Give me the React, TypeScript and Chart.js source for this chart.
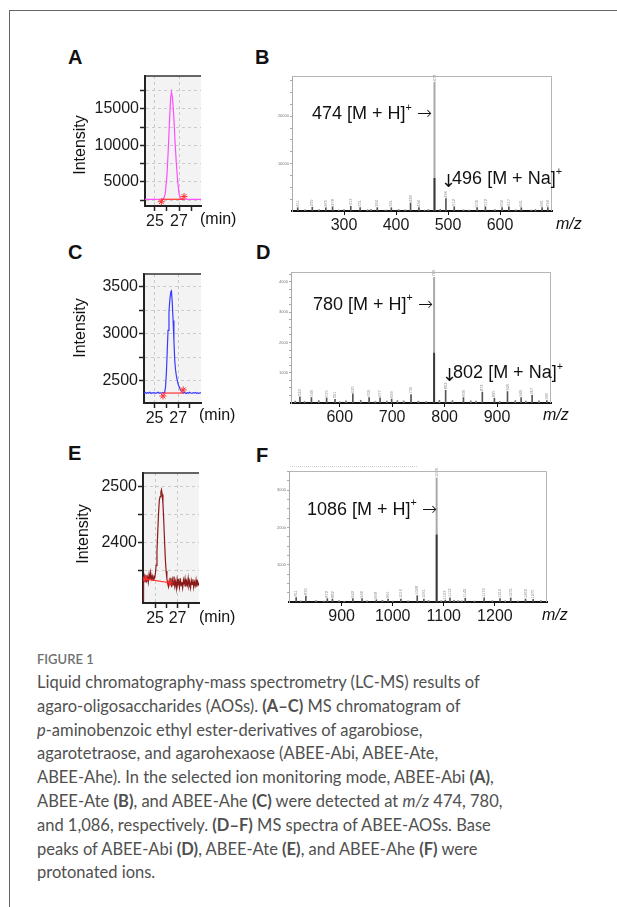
import React, { useEffect, useRef } from "react";
import { Chart, registerables } from "chart.js";
Chart.register(...registerables);

const SANS = "'Liberation Sans', Arial, Helvetica, sans-serif";

// ---------- Panel A: ABEE-Abi chromatogram ----------
const A_TIME = [24.17, 25.0, 25.5, 25.7, 25.85, 26.0, 26.1, 26.2, 26.3, 26.37, 26.45, 26.56, 26.67, 26.78, 26.9, 27.0, 27.1, 27.2, 27.4, 28.0, 28.83];
const A_INT = [2630, 2630, 2635, 2680, 3300, 6000, 9200, 13000, 16400, 17300, 16600, 14200, 10500, 7500, 4900, 3450, 2850, 2680, 2635, 2630, 2630];
const A_BASE_X = [25.53, 27.42];
const A_BASE_Y = [2630, 2630];
const A_MARK_Y = [2300, 3000];
const A_X_TICKS = [25, 26, 27, 28];
const A_X_LABELS = [25, 27];
const A_Y_TICKS = [2500, 5000, 7500, 10000, 12500, 15000, 17500];
const A_Y_LABELS = [5000, 10000, 15000];

// ---------- Panel C: ABEE-Ate chromatogram ----------
const C_TIME = [24.1, 24.2, 24.3, 24.4, 24.5, 24.6, 24.7, 24.8, 24.9, 25.0, 25.1, 25.2, 25.3, 25.4, 25.5, 25.6, 25.7, 25.78, 25.85, 25.93, 26.0, 26.07, 26.14, 26.22, 26.3, 26.38, 26.43, 26.5, 26.57, 26.64, 26.71, 26.78, 26.86, 27.0, 27.14, 27.25, 27.37, 27.47, 27.57, 27.67, 27.77, 27.87, 27.97, 28.07, 28.17, 28.27, 28.37, 28.47, 28.57, 28.67, 28.77, 28.87, 28.94];
const C_INT = [2368, 2372, 2363, 2370, 2366, 2374, 2362, 2369, 2365, 2371, 2362, 2368, 2374, 2364, 2369, 2365, 2372, 2366, 2370, 2430, 2580, 2800, 3035, 3230, 3370, 3445, 3454, 3330, 3140, 2930, 2715, 2610, 2540, 2460, 2415, 2390, 2372, 2366, 2373, 2361, 2369, 2364, 2375, 2366, 2362, 2371, 2365, 2373, 2363, 2368, 2362, 2370, 2366];
const C_BASE_X = [25.71, 27.43];
const C_BASE_Y = [2366, 2366];
const C_MARK_Y = [2335, 2400];
const C_X_TICKS = [25, 26, 27, 28];
const C_X_LABELS = [25, 27];
const C_Y_TICKS = [2500, 2750, 3000, 3250, 3500];
const C_Y_LABELS = [2500, 3000, 3500];

// ---------- Panel E: ABEE-Ahe chromatogram ----------
const E_TIME = [23.93, 23.98, 24.05, 24.12, 24.19, 24.26, 24.33, 24.4, 24.47, 24.54, 24.61, 24.68, 24.75, 24.82, 24.89, 24.96, 25.03, 25.1, 25.17, 25.24, 25.31, 25.38, 25.45, 25.52, 25.57, 25.63, 25.7, 25.77, 25.84, 25.91, 25.98, 26.05, 26.12, 26.19, 26.26, 26.33, 26.4, 26.47, 26.54, 26.61, 26.68, 26.75, 26.82, 26.89, 26.96, 27.03, 27.1, 27.17, 27.24, 27.31, 27.38, 27.45, 27.52, 27.59, 27.66, 27.73, 27.8, 27.87, 27.94, 28.01, 28.08, 28.15, 28.22, 28.29, 28.36, 28.43, 28.5, 28.57, 28.64, 28.71, 28.78, 28.85, 28.9];
const E_INT = [2297, 2334, 2341, 2331, 2343, 2333, 2339, 2330, 2344, 2334, 2347, 2336, 2341, 2333, 2340, 2338, 2345, 2360, 2385, 2420, 2452, 2476, 2482, 2490, 2494, 2486, 2470, 2440, 2405, 2372, 2350, 2336, 2328, 2322, 2333, 2326, 2338, 2321, 2334, 2325, 2340, 2323, 2331, 2319, 2335, 2326, 2332, 2321, 2337, 2324, 2330, 2320, 2334, 2327, 2336, 2322, 2331, 2325, 2337, 2323, 2329, 2320, 2333, 2326, 2335, 2321, 2330, 2324, 2334, 2322, 2331, 2326, 2329];
const E_BASE_X = [24.1, 26.3];
const E_BASE_Y = [2336, 2329];
const E_MARK_Y = [2336, 2329];
const E_X_TICKS = [25, 26, 27, 28];
const E_X_LABELS = [25, 27];
const E_Y_TICKS = [2350, 2400, 2450, 2500];
const E_Y_LABELS = [2400, 2500];

// ---------- Panel B: MS spectrum ABEE-Abi ----------
const B_BASE_MZ = 474;
const B_BASE_INT = 27200;
const B_BASE_CORE = 6900;
const B_PEAK_MZ = [211, 239, 265, 278, 313, 331, 364, 391, 428, 444, 496, 512, 556, 572, 604, 617, 641, 681, 692];
const B_PEAK_INT = [700, 800, 700, 900, 1000, 700, 700, 700, 1700, 700, 2600, 900, 700, 900, 700, 900, 700, 700, 700];
const B_NOISE_MZ = [225, 252, 290, 300, 345, 352, 380, 405, 418, 455, 462, 485, 530, 540, 590, 630, 660, 668];
const B_NOISE_INT = [250, 300, 200, 300, 250, 350, 200, 300, 250, 200, 300, 350, 250, 200, 300, 250, 200, 300];
const B_X_TICKS = [300, 400, 500, 600];
const B_Y_TICKS = [2500, 5000, 7500, 10000, 12500, 15000, 17500, 20000, 22500, 25000, 27500];
const B_Y_LABELS = [10000, 20000];

// ---------- Panel D: MS spectrum ABEE-Ate ----------
const D_BASE_MZ = 780;
const D_BASE_INT = 4150;
const D_BASE_CORE = 1650;
const D_PEAK_MZ = [524, 546, 575, 591, 625, 656, 677, 699, 736, 802, 836, 872, 895, 920, 946, 967, 995];
const D_PEAK_INT = [200, 180, 170, 120, 300, 180, 170, 130, 280, 420, 180, 360, 160, 380, 180, 250, 80];
const D_NOISE_MZ = [515, 533, 560, 600, 612, 640, 668, 690, 710, 722, 750, 765, 790, 815, 850, 860, 905, 935, 955, 980];
const D_NOISE_INT = [60, 50, 80, 40, 70, 90, 50, 60, 80, 70, 60, 50, 90, 80, 70, 60, 50, 80, 60, 70];
const D_X_TICKS = [600, 700, 800, 900];
const D_Y_TICKS = [250, 500, 750, 1000, 1250, 1500, 1750, 2000, 2250, 2500, 2750, 3000, 3250, 3500, 3750, 4000, 4250];
const D_Y_LABELS = [1000, 2000, 3000, 4000];

// ---------- Panel F: MS spectrum ABEE-Ahe ----------
const F_BASE_MZ = 1086;
const F_BASE_INT = 3330;
const F_BASE_CORE = 1800;
const F_PEAK_MZ = [811, 830, 872, 882, 922, 940, 968, 991, 1016, 1048, 1061, 1103, 1112, 1142, 1179, 1210, 1231, 1260, 1275];
const F_PEAK_INT = [120, 160, 90, 80, 90, 90, 60, 80, 80, 170, 80, 50, 110, 100, 110, 90, 110, 80, 70];
const F_NOISE_MZ = [820, 850, 865, 895, 905, 950, 980, 1000, 1030, 1070, 1095, 1120, 1128, 1135, 1160, 1195, 1220, 1245, 1290];
const F_NOISE_INT = [30, 40, 25, 35, 20, 30, 45, 25, 30, 40, 35, 45, 40, 30, 25, 35, 30, 25, 40];
const F_X_TICKS = [900, 1000, 1100, 1200];
const F_Y_TICKS = [250, 500, 750, 1000, 1250, 1500, 1750, 2000, 2250, 2500, 2750, 3000, 3250, 3500];
const F_Y_LABELS = [1000, 2000, 3000];

type Area = { l: number; t: number; r: number; b: number };

const chromaPlugin = {
  id: "chromaFrame",
  beforeDraw(chart: any) {
    const { ctx, chartArea: a } = chart;
    ctx.save();
    ctx.fillStyle = "#f3f3f3";
    ctx.fillRect(a.left, a.top, a.right - a.left, a.bottom - a.top);
    ctx.restore();
  },
  afterDraw(chart: any) {
    const { ctx, chartArea: a } = chart;
    ctx.save();
    ctx.strokeStyle = "#333";
    ctx.lineWidth = 1.5;
    ctx.beginPath();
    ctx.moveTo(a.left, a.top);
    ctx.lineTo(a.right, a.top);
    ctx.stroke();
    ctx.restore();
  },
};

function Chromatogram(props: {
  area: Area; xMin: number; xMax: number; yMin: number; yMax: number;
  time: number[]; inten: number[]; color: string;
  baseX: number[]; baseY: number[]; markY: number[];
  xTicks: number[]; xLabels: number[]; yTicks: number[]; yLabels: number[];
}) {
  const ref = useRef<HTMLCanvasElement>(null);
  const { area } = props;
  const yW = 70, padT = 14, padR = 14, xH = 30;
  const left = area.l - yW, top = area.t - padT;
  const w = area.r - area.l + yW + padR, h = area.b - area.t + padT + xH;
  useEffect(() => {
    const p = props;
    const chart = new Chart(ref.current!, {
      type: "line",
      data: {
        datasets: [
          {
            data: p.baseX.map((x, i) => ({ x, y: p.baseY[i] })),
            borderColor: "#ff3030", borderWidth: 1.2, pointRadius: 0, order: 0,
          },
          {
            data: p.baseX.map((x, i) => ({ x, y: p.markY[i] })),
            showLine: false, pointStyle: "star", pointRadius: 3.5,
            pointBorderColor: "#ff3030", pointBorderWidth: 1, order: 0,
          },
          {
            data: p.time.map((x, i) => ({ x, y: p.inten[i] })),
            borderColor: p.color, borderWidth: 1.2, pointRadius: 0, tension: 0, order: 1,
          },
        ],
      } as any,
      options: {
        responsive: false,
        animation: false,
        devicePixelRatio: 1,
        layout: { padding: { top: padT, right: padR, left: 0, bottom: 0 } },
        plugins: { legend: { display: false }, tooltip: { enabled: false } },
        scales: {
          x: {
            type: "linear", min: p.xMin, max: p.xMax,
            afterFit: (s: any) => { s.height = xH; },
            afterBuildTicks: (s: any) => { s.ticks = p.xTicks.map((v) => ({ value: v })); },
            ticks: {
              autoSkip: false, maxRotation: 0, padding: 1, color: "#1a1a1a",
              font: { family: SANS, size: 16 },
              callback: (v: any) => (p.xLabels.includes(Number(v)) ? String(v) : ""),
            },
            grid: {
              color: (c: any) => (c.tick && p.xLabels.includes(c.tick.value) ? "#c9c9c9" : "rgba(0,0,0,0)"),
              tickColor: "#222", tickLength: 5, tickWidth: 1.5, lineWidth: 1,
            },
            border: { display: true, color: "#222", width: 2, dash: [3, 3] },
          },
          y: {
            type: "linear", min: p.yMin, max: p.yMax,
            afterFit: (s: any) => { s.width = yW; },
            afterBuildTicks: (s: any) => { s.ticks = p.yTicks.map((v) => ({ value: v })); },
            ticks: {
              autoSkip: false, padding: 1, color: "#1a1a1a",
              font: { family: SANS, size: 16 },
              callback: (v: any) => (p.yLabels.includes(Number(v)) ? String(v) : ""),
            },
            grid: { color: "#cccccc", tickColor: "#222", tickLength: 5, tickWidth: 1.5, lineWidth: 1 },
            border: { display: true, color: "#222", width: 2, dash: [3, 3] },
          },
        },
      } as any,
      plugins: [chromaPlugin],
    });
    return () => chart.destroy();
  }, []);
  return (
    <canvas ref={ref} width={w} height={h}
      style={{ position: "absolute", left, top, width: w, height: h }} />
  );
}

function Spectrum(props: {
  area: Area; xMin: number; xMax: number; yMax: number;
  baseMz: number; baseInt: number; baseCore: number;
  peakMz: number[]; peakInt: number[]; noiseMz: number[]; noiseInt: number[];
  xTicks: number[]; yTicks: number[]; yLabels: number[];
}) {
  const ref = useRef<HTMLCanvasElement>(null);
  const { area } = props;
  const yW = 20, padT = 6, padR = 6, xH = 30;
  const left = area.l - yW, top = area.t - padT;
  const w = area.r - area.l + yW + padR, h = area.b - area.t + padT + xH;
  useEffect(() => {
    const p = props;
    const specPlugin = {
      id: "specFrame",
      afterDatasetsDraw(chart: any) {
        const { ctx, scales } = chart;
        const xs = scales.x, ys = scales.y;
        ctx.save();
        ctx.fillStyle = "#8a8a8a";
        ctx.font = `4px ${SANS}`;
        ctx.textAlign = "left";
        ctx.textBaseline = "middle";
        const all = [p.baseMz, ...p.peakMz];
        const ints = [p.baseInt, ...p.peakInt];
        all.forEach((mz, i) => {
          const px = xs.getPixelForValue(mz);
          const py = ys.getPixelForValue(ints[i]) - 1;
          ctx.save();
          ctx.translate(px, py);
          ctx.rotate(-Math.PI / 2);
          ctx.fillText(String(mz), 0, 0);
          ctx.restore();
        });
        ctx.restore();
      },
      afterDraw(chart: any) {
        const { ctx, chartArea: a } = chart;
        ctx.save();
        ctx.strokeStyle = "#b5b5b5";
        ctx.lineWidth = 1;
        ctx.beginPath();
        ctx.moveTo(a.left, a.top + 0.5);
        ctx.lineTo(a.right - 0.5, a.top + 0.5);
        ctx.lineTo(a.right - 0.5, a.bottom);
        ctx.stroke();
        ctx.restore();
      },
    };
    const chart = new Chart(ref.current!, {
      type: "bar",
      data: {
        datasets: [
          {
            data: [{ x: p.baseMz, y: p.baseCore }],
            backgroundColor: "#3a3a3a", barThickness: 1.3, grouped: false, order: 0,
          },
          {
            data: p.peakMz.map((x, i) => ({ x, y: p.peakInt[i] })),
            backgroundColor: "#555", barThickness: 1, grouped: false, order: 1,
          },
          {
            data: p.noiseMz.map((x, i) => ({ x, y: p.noiseInt[i] })),
            backgroundColor: "#777", barThickness: 1, grouped: false, order: 1,
          },
          {
            data: [{ x: p.baseMz, y: p.baseInt }],
            backgroundColor: "#a8a8a8", barThickness: 1.3, grouped: false, order: 2,
          },
        ],
      } as any,
      options: {
        responsive: false,
        animation: false,
        devicePixelRatio: 1,
        layout: { padding: { top: padT, right: padR, left: 0, bottom: 0 } },
        plugins: { legend: { display: false }, tooltip: { enabled: false } },
        scales: {
          x: {
            type: "linear", min: p.xMin, max: p.xMax, offset: false,
            afterFit: (s: any) => { s.height = xH; },
            afterBuildTicks: (s: any) => { s.ticks = p.xTicks.map((v) => ({ value: v })); },
            ticks: {
              autoSkip: false, maxRotation: 0, padding: 1, color: "#1a1a1a",
              font: { family: SANS, size: 16 },
              callback: (v: any) => String(v),
            },
            grid: { offset: false, drawOnChartArea: false, tickColor: "#111", tickLength: 4, tickWidth: 1 },
            border: { display: true, color: "#111", width: 2 },
          },
          y: {
            type: "linear", min: 0, max: p.yMax,
            afterFit: (s: any) => { s.width = yW; },
            afterBuildTicks: (s: any) => { s.ticks = p.yTicks.map((v) => ({ value: v })); },
            ticks: {
              autoSkip: false, padding: 1, color: "#777",
              font: { family: SANS, size: 4 },
              callback: (v: any) => (p.yLabels.includes(Number(v)) ? String(v) : ""),
            },
            grid: { drawOnChartArea: false, tickColor: "#aaa", tickLength: 2, tickWidth: 1 },
            border: { display: true, color: "#aaa", width: 1 },
          },
        },
      } as any,
      plugins: [specPlugin],
    });
    return () => chart.destroy();
  }, []);
  return (
    <canvas ref={ref} width={w} height={h}
      style={{ position: "absolute", left, top, width: w, height: h }} />
  );
}

function Txt(props: { x: number; y: number; size?: number; bold?: boolean; italic?: boolean; color?: string; children: any }) {
  const size = props.size ?? 16;
  return (
    <div style={{
      position: "absolute", left: props.x, top: props.y - 0.4885 * size, fontSize: size,
      lineHeight: `${size}px`, fontWeight: props.bold ? 700 : 400,
      fontStyle: props.italic ? "italic" : "normal", color: props.color ?? "#111",
      fontFamily: SANS, whiteSpace: "nowrap",
    }}>{props.children}</div>
  );
}

function VTxt(props: { cx: number; cy: number; size?: number; children: any }) {
  const size = props.size ?? 16;
  return (
    <div style={{
      position: "absolute", left: props.cx, top: props.cy,
      transform: "translate(-50%,-50%) rotate(-90deg)", fontSize: size, lineHeight: `${size}px`,
      fontFamily: SANS, whiteSpace: "nowrap", color: "#111",
    }}>{props.children}</div>
  );
}

const Sup = (p: { children: any }) => (
  <span style={{ fontSize: "0.6em", position: "relative", top: "-0.75em" }}>{p.children}</span>
);
const Arr = (p: { children: any }) => (
  <span style={{ fontFamily: "'DejaVu Sans', sans-serif", fontWeight: 200 }}>{p.children}</span>
);
const Down = () => (
  <span style={{ fontFamily: "'DejaVu Sans', sans-serif", display: "inline-block", marginLeft: -2, marginRight: -4, position: "relative", top: 3 }}>↓</span>
);

export default function App() {
  const cap: React.CSSProperties = {
    position: "absolute", left: 37, top: 671, width: 570,
    fontFamily: "Lato, 'Open Sans', sans-serif", fontSize: 16.5, lineHeight: "23.8px",
    color: "#505050", whiteSpace: "nowrap",
  };
  return (
    <div style={{ position: "absolute", left: 0, top: 0, width: 617, height: 907, overflow: "hidden", background: "#fff" }}>
      <div style={{ position: "absolute", left: 9, top: 10, width: 800, height: 1000, borderLeft: "1.5px solid #666", borderTop: "1.5px solid #666" }} />

      {/* Panel letters */}
      <Txt x={68} y={57} size={20} bold>A</Txt>
      <Txt x={255} y={57} size={20} bold>B</Txt>
      <Txt x={68} y={252} size={20} bold>C</Txt>
      <Txt x={256} y={252} size={20} bold>D</Txt>
      <Txt x={68} y={453} size={20} bold>E</Txt>
      <Txt x={256} y={455} size={20} bold>F</Txt>

      {/* Chromatograms */}
      <Chromatogram area={{ l: 145, t: 76, r: 201, b: 206 }} xMin={24.17} xMax={28.83} yMin={1710} yMax={19520}
        time={A_TIME} inten={A_INT} color="#ff4dff" baseX={A_BASE_X} baseY={A_BASE_Y} markY={A_MARK_Y}
        xTicks={A_X_TICKS} xLabels={A_X_LABELS} yTicks={A_Y_TICKS} yLabels={A_Y_LABELS} />
      <Chromatogram area={{ l: 144, t: 274, r: 201, b: 403 }} xMin={24.1} xMax={28.94} yMin={2260} yMax={3635}
        time={C_TIME} inten={C_INT} color="#3a3aff" baseX={C_BASE_X} baseY={C_BASE_Y} markY={C_MARK_Y}
        xTicks={C_X_TICKS} xLabels={C_X_LABELS} yTicks={C_Y_TICKS} yLabels={C_Y_LABELS} />
      <Chromatogram area={{ l: 143, t: 473, r: 199, b: 603 }} xMin={23.93} xMax={28.9} yMin={2293} yMax={2524}
        time={E_TIME} inten={E_INT} color="#8b1a1a" baseX={E_BASE_X} baseY={E_BASE_Y} markY={E_MARK_Y}
        xTicks={E_X_TICKS} xLabels={E_X_LABELS} yTicks={E_Y_TICKS} yLabels={E_Y_LABELS} />

      <VTxt cx={80} cy={144.5}>Intensity</VTxt>
      <VTxt cx={80} cy={327.5}>Intensity</VTxt>
      <VTxt cx={82.5} cy={533.7}>Intensity</VTxt>
      <Txt x={200} y={218.5}>(min)</Txt>
      <Txt x={199} y={415}>(min)</Txt>
      <Txt x={199} y={616.7}>(min)</Txt>

      {/* Spectra */}
      <Spectrum area={{ l: 292, t: 76, r: 552, b: 211 }} xMin={200} xMax={700} yMax={28500}
        baseMz={B_BASE_MZ} baseInt={B_BASE_INT} baseCore={B_BASE_CORE}
        peakMz={B_PEAK_MZ} peakInt={B_PEAK_INT} noiseMz={B_NOISE_MZ} noiseInt={B_NOISE_INT}
        xTicks={B_X_TICKS} yTicks={B_Y_TICKS} yLabels={B_Y_LABELS} />
      <Spectrum area={{ l: 291, t: 272, r: 551, b: 403 }} xMin={507} xMax={1003} yMax={4330}
        baseMz={D_BASE_MZ} baseInt={D_BASE_INT} baseCore={D_BASE_CORE}
        peakMz={D_PEAK_MZ} peakInt={D_PEAK_INT} noiseMz={D_NOISE_MZ} noiseInt={D_NOISE_INT}
        xTicks={D_X_TICKS} yTicks={D_Y_TICKS} yLabels={D_Y_LABELS} />
      <Spectrum area={{ l: 289, t: 471, r: 547, b: 602 }} xMin={797} xMax={1302} yMax={3515}
        baseMz={F_BASE_MZ} baseInt={F_BASE_INT} baseCore={F_BASE_CORE}
        peakMz={F_PEAK_MZ} peakInt={F_PEAK_INT} noiseMz={F_NOISE_MZ} noiseInt={F_NOISE_INT}
        xTicks={F_X_TICKS} yTicks={F_Y_TICKS} yLabels={F_Y_LABELS} />
      <div style={{ position: "absolute", left: 290, top: 466, width: 127, borderTop: "1px dotted #d0d0d0" }} />

      <Txt x={556} y={224} italic>m/z</Txt>
      <Txt x={543} y={415} italic>m/z</Txt>
      <Txt x={542} y={615} italic>m/z</Txt>

      {/* Annotations */}
      <Txt x={312} y={112.7} size={18}>474 [M + H]<Sup>+</Sup> <Arr>→</Arr></Txt>
      <Txt x={443} y={177.3} size={18}><Down />496 [M + Na]<Sup>+</Sup></Txt>
      <Txt x={313} y={303.3} size={18}>780 [M + H]<Sup>+</Sup> <Arr>→</Arr></Txt>
      <Txt x={444} y={371.7} size={18}><Down />802 [M + Na]<Sup>+</Sup></Txt>
      <Txt x={307} y={508.3} size={18}>1086 [M + H]<Sup>+</Sup> <Arr>→</Arr></Txt>

      {/* Caption */}
      <div style={{ position: "absolute", left: 37, top: 651, fontFamily: "Lato, 'Open Sans', sans-serif", fontSize: 13, fontWeight: 600, color: "#707070", lineHeight: "16px" }}>FIGURE 1</div>
      <div style={cap}>
        Liquid chromatography-mass spectrometry (LC-MS) results of<br />
        agaro-oligosaccharides (AOSs). <b>(A–C)</b> MS chromatogram of<br />
        <i>p</i>-aminobenzoic ethyl ester-derivatives of agarobiose,<br />
        agarotetraose, and agarohexaose (ABEE-Abi, ABEE-Ate,<br />
        ABEE-Ahe). In the selected ion monitoring mode, ABEE-Abi <b>(A)</b>,<br />
        ABEE-Ate <b>(B)</b>, and ABEE-Ahe <b>(C)</b> were detected at <i>m/z</i> 474, 780,<br />
        and 1,086, respectively. <b>(D–F)</b> MS spectra of ABEE-AOSs. Base<br />
        peaks of ABEE-Abi <b>(D)</b>, ABEE-Ate <b>(E)</b>, and ABEE-Ahe <b>(F)</b> were<br />
        protonated ions.
      </div>
    </div>
  );
}
